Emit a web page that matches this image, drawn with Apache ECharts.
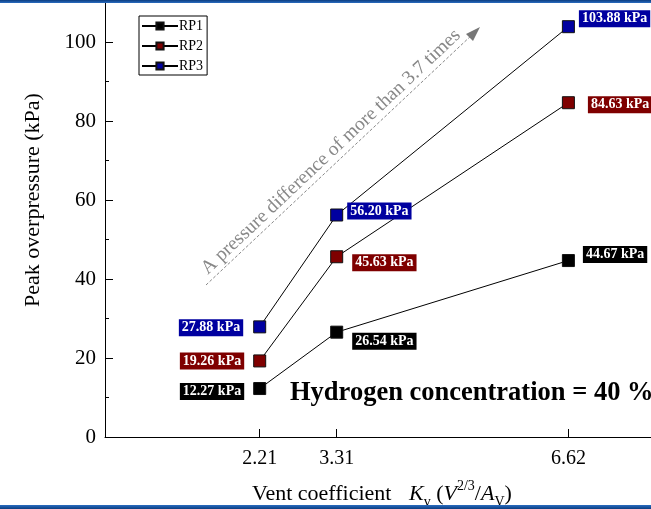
<!DOCTYPE html>
<html>
<head>
<meta charset="utf-8">
<script src="https://cdn.jsdelivr.net/npm/echarts@6/dist/echarts.min.js"></script>
<style>
  html, body { margin: 0; padding: 0; background: #fff; }
  #chart { width: 651px; height: 509px; }
</style>
</head>
<body>
<div id="chart"></div>
<script>
// Vent coefficient values (x) and peak overpressure readings (kPa)
const ventCoeff = [2.21, 3.31, 6.62];
const seriesNames = ['RP1', 'RP2', 'RP3'];
const rp1 = [12.27, 26.54, 44.67];
const rp2 = [19.26, 45.63, 84.63];
const rp3 = [27.88, 56.20, 103.88];
const yMajorTicks = [0, 20, 40, 60, 80, 100];
const yMinorTicks = [10, 30, 50, 70, 90];
const xTicks = [2.21, 3.31, 6.62];

const FONT = '"Liberation Serif", "Times New Roman", serif';
const colors = ['#000000', '#7f0000', '#0000a0'];

// label placement per point: [position, dx, dy]
const labelLayout = [
  [['left', -5, 3], ['right', 5, 9], ['right', 4, -6]],
  [['left', -5, 0], ['right', 5, 6], ['right', 9, 2]],
  [['left', -6, 1], ['right', 0, -4], ['right', 0, -8]]
];

const values = [rp1, rp2, rp3];

const series = values.map((vals, si) => ({
  name: seriesNames[si],
  type: 'line',
  symbol: 'rect',
  symbolSize: 12,
  z: 3,
  lineStyle: { color: '#000', width: 1 },
  itemStyle: { color: colors[si], borderColor: '#111', borderWidth: 1 },
  emphasis: { disabled: true },
  data: vals.map((v, i) => ({
    value: [ventCoeff[i], v],
    label: {
      show: true,
      position: labelLayout[si][i][0],
      offset: [labelLayout[si][i][1], labelLayout[si][i][2]],
      distance: 4,
      formatter: v.toFixed(2) + ' kPa',
      color: '#fff',
      fontWeight: 'bold',
      fontSize: 14,
      fontFamily: FONT,
      backgroundColor: colors[si],
      padding: [2, 3, 1, 3]
    }
  }))
}));

const chart = echarts.init(document.getElementById('chart'), null, { renderer: 'canvas' });

const axisCommon = {
  type: 'value',
  min: 0,
  splitLine: { show: false },
  axisLine: { show: true, lineStyle: { color: '#000', width: 1 } }
};

chart.setOption({
  animation: false,
  backgroundColor: '#fff',
  grid: { left: 105, right: 0, top: 2.5, bottom: 72 },
  legend: {
    orient: 'vertical',
    left: 139,
    top: 16,
    padding: [3, 4, 2, 2],
    itemGap: 6,
    itemWidth: 36,
    itemHeight: 9,
    borderColor: '#000',
    borderWidth: 1,
    borderRadius: 0,
    textStyle: { fontFamily: FONT, fontSize: 14, color: '#000', padding: [0, 0, 0, -4] },
    data: seriesNames
  },
  xAxis: Object.assign({}, axisCommon, {
    max: 7.8,
    axisTick: { show: true, inside: true, length: 8, customValues: xTicks, lineStyle: { color: '#000' } },
    axisLabel: {
      customValues: xTicks,
      formatter: v => v.toFixed(2),
      fontFamily: FONT, fontSize: 20, color: '#000', margin: 12
    }
  }),
  yAxis: [
    Object.assign({}, axisCommon, {
      max: 110,
      axisTick: { show: true, inside: true, length: 8, customValues: yMajorTicks, lineStyle: { color: '#000' } },
      axisLabel: {
        customValues: yMajorTicks,
        fontFamily: FONT, fontSize: 21, color: '#000', margin: 9
      }
    }),
    Object.assign({}, axisCommon, {
      max: 110,
      position: 'left',
      axisLine: { show: false },
      axisTick: { show: true, inside: true, length: 4, customValues: yMinorTicks, lineStyle: { color: '#000' } },
      axisLabel: { show: false }
    })
  ],
  graphic: [
    // pressure-difference arrow
    {
      type: 'line', z: 1,
      shape: { x1: 206, y1: 285, x2: 474, y2: 33 },
      style: { stroke: '#888', lineWidth: 1, lineDash: [3, 2] }
    },
    {
      type: 'polygon', z: 1,
      shape: { points: [[480, 27], [466, 34], [473, 41]] },
      style: { fill: '#777' }
    },
    {
      type: 'text', z: 2,
      x: 331, y: 152,
      rotation: Math.atan2(256, 272),
      style: {
        text: 'A pressure difference of more than 3.7 times',
        font: '19.5px ' + FONT,
        fill: '#888',
        align: 'center',
        verticalAlign: 'middle'
      }
    },
    {
      type: 'text', z: 5,
      x: 290, y: 393,
      style: {
        text: 'Hydrogen concentration = 40 %',
        font: 'bold 26.5px ' + FONT,
        fill: '#000',
        verticalAlign: 'middle'
      }
    },
    // y axis title
    {
      type: 'text', z: 5,
      x: 33, y: 200,
      rotation: Math.PI / 2,
      style: {
        text: 'Peak overpressure (kPa)',
        font: '22px ' + FONT,
        fill: '#000',
        align: 'center',
        verticalAlign: 'middle'
      }
    },
    // x axis title
    {
      type: 'text', z: 5,
      x: 252, y: 494,
      style: {
        text: 'Vent coefficient',
        font: '22px ' + FONT,
        fill: '#000',
        verticalAlign: 'middle'
      }
    },
    {
      type: 'text', z: 5,
      x: 409, y: 494,
      style: {
        text: '{it|K}{sub|v} ({it|V}{sup|2/3}/{it|A}{sub|V})',
        font: '22px ' + FONT,
        fill: '#000',
        verticalAlign: 'middle',
        lineHeight: 30,
        rich: {
          it: { fontFamily: FONT, fontSize: 22, fontStyle: 'italic', verticalAlign: 'middle' },
          sub: { fontFamily: FONT, fontSize: 14, verticalAlign: 'bottom' },
          sup: { fontFamily: FONT, fontSize: 14, verticalAlign: 'top' }
        }
      }
    },
    // frame bands
    {
      type: 'rect', z: 10,
      shape: { x: 0, y: 0, width: 651, height: 3 },
      style: { fill: new echarts.graphic.LinearGradient(0, 0, 0, 1, [
        { offset: 0, color: '#0b3d80' }, { offset: 1, color: '#2a6cc0' }
      ]) }
    },
    {
      type: 'rect', z: 10,
      shape: { x: 0, y: 505, width: 651, height: 4 },
      style: { fill: new echarts.graphic.LinearGradient(0, 0, 0, 1, [
        { offset: 0, color: '#2a6cc0' }, { offset: 1, color: '#0b3d80' }
      ]) }
    }
  ],
  series: series
});
</script>
</body>
</html>
